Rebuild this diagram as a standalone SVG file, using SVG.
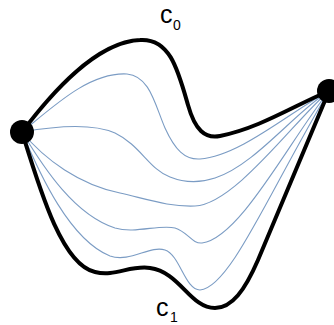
<svg xmlns="http://www.w3.org/2000/svg" width="334" height="325" viewBox="0 0 334 325">
<style>
.thick{fill:none;stroke:#000;stroke-width:4;stroke-linecap:round;stroke-linejoin:round}
.thin{fill:none;stroke:#7b9cc4;stroke-width:1.1}
.lbl{font-family:"Liberation Sans",Arial,sans-serif;fill:#000}
.big{font-size:25px}
.sub{font-size:14px}
</style>
<g id="connectors">
<path class="thin" d="M22,132 C55,105 90,72 127,74 C150,76 155,105 165,128 C175,150 185,160 200,159 C240,156 290,112 329,91"/>
<path class="thin" d="M22,132 C50,127 90,122 115,133 C140,145 150,170 170,177 C185,183 200,183 215,178 C255,165 295,112 329,91"/>
<path class="thin" d="M22,132 C45,160 80,185 120,193 C150,200 170,207 195,206 C235,204 295,120 329,91"/>
<path class="thin" d="M22,132 C45,170 75,215 115,228 C135,234 160,224 175,228 C188,232 192,244 202,243 C240,238 290,140 329,91"/>
<path class="thin" d="M22,132 C40,175 70,240 110,256 C130,263 150,245 165,250 C180,255 185,290 200,290 C230,288 270,190 329,91"/>
<path id="c0" class="thick" d="M22,132 C50,95 95,42 140,40 C170,38 178,70 188,105 C195,130 205,139 220,136 C260,128 295,105 329,91"/>
<path id="c1" class="thick" d="M22,132 C40,190 62,265 95,272 C115,277 130,265 150,268 C180,272 190,308 215,308 C232,308 245,290 258,260 L329,91"/>
</g>
<g id="nodeA"><circle cx="22" cy="132" r="12" fill="#000"/></g>
<g id="nodeB"><circle cx="329" cy="91" r="12" fill="#000"/></g>
<g id="label-c0"><text class="lbl big" x="160" y="23">c</text><text class="lbl sub" x="173" y="30">0</text></g>
<g id="label-c1"><text class="lbl big" x="156" y="316">c</text><text class="lbl sub" x="170" y="322">1</text></g>
</svg>
